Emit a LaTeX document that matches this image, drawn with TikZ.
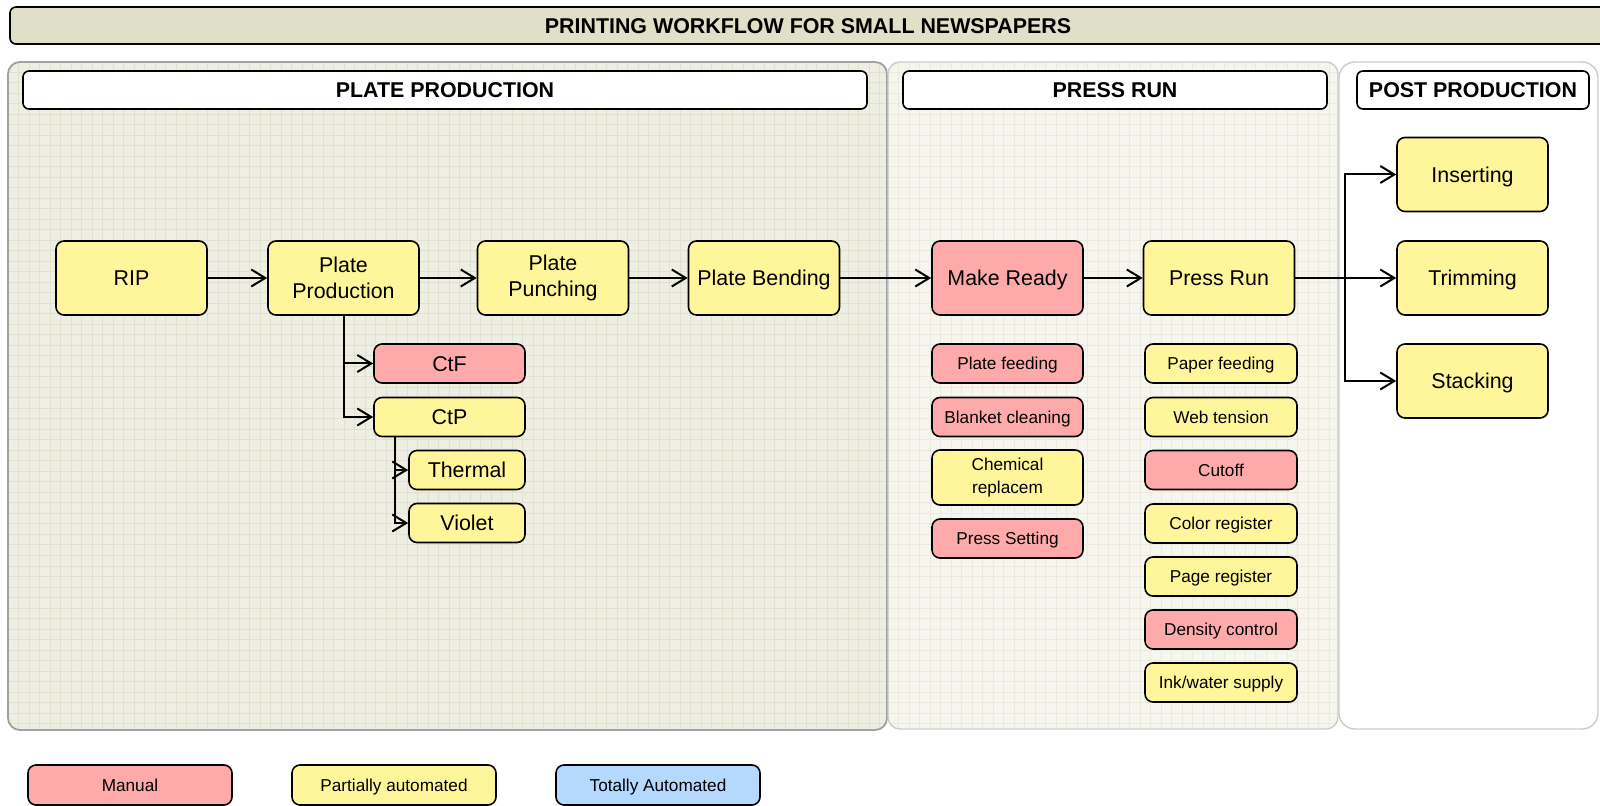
\documentclass[tikz,border=0pt]{standalone}
\usepackage{fontspec}
\setmainfont{Liberation Sans}
\usetikzlibrary{arrows.meta}
\definecolor{yel}{HTML}{FFF59A}
\definecolor{pnk}{HTML}{FFAAAA}
\definecolor{blu}{HTML}{B5D8FF}
\definecolor{titlebg}{HTML}{E0DFC8}
\definecolor{platebg}{HTML}{EEEEE2}
\definecolor{plategrid}{HTML}{E0E1CE}
\definecolor{pressbg}{HTML}{F6F6EF}
\definecolor{pressgrid}{HTML}{EAEBDD}
\definecolor{panelline}{HTML}{A0A0A0}
\definecolor{panellight}{HTML}{CCCCCC}
\begin{document}
\begin{tikzpicture}[x=0.5pt,y=-0.5pt,
  bigfont/.style={font=\fontsize{10.7}{12.8}\selectfont},
  smallfont/.style={font=\fontsize{8.6}{11.7}\selectfont},
  box/.style={draw=black, line width=0.8pt, rounded corners=4pt, inner sep=0pt, align=center},
  bigbox/.style={box, bigfont, minimum width=75.5pt, minimum height=37pt},
  smallbox/.style={box, smallfont, minimum width=75.5pt, minimum height=19.5pt},
  subbox/.style={box, bigfont, minimum width=58pt, minimum height=19.5pt},
  bigline/.style={text height=7.7pt, text depth=0pt},
  smallline/.style={text height=6.2pt, text depth=0pt},
  ybox/.style={fill=yel},
  pbox/.style={fill=pnk},
  header/.style={draw=black, line width=0.8pt, rounded corners=3pt, fill=white, inner sep=0pt, font=\fontsize{10.7}{12.8}\selectfont\bfseries, minimum height=19pt, text height=7.7pt, text depth=0pt},
  conn/.style={line width=1pt, -{Straight Barb[length=7pt,width=8.5pt,line width=1pt]}}
]
\useasboundingbox (0,0) rectangle (1600,806);
\clip (0,0) rectangle (1600,806);
\fill[white] (0,0) rectangle (1600,806);

% title bar
\draw[line width=0.8pt, rounded corners=3pt, fill=titlebg] (10,7) rectangle (1630,44);
\node[font=\fontsize{10.7}{12.8}\selectfont\bfseries, inner sep=0pt, text height=7.7pt, text depth=0pt] (title) at (808,25.5) {PRINTING WORKFLOW FOR SMALL NEWSPAPERS};

% plate production panel
\begin{scope}
\clip[rounded corners=6pt] (8,62) rectangle (887,730);
\fill[platebg] (8,62) rectangle (887,730);
\foreach \i in {0,...,84} \draw[plategrid, line width=0.5pt] ({8+\i*10.5},62) -- ({8+\i*10.5},730);
\foreach \i in {0,...,64} \draw[plategrid, line width=0.5pt] (8,{62+\i*10.5}) -- (887,{62+\i*10.5});
\end{scope}
\draw[panelline, line width=0.9pt, rounded corners=6pt] (8,62) rectangle (887,730);

% press run panel
\begin{scope}
\clip[rounded corners=6pt] (888,62) rectangle (1338,729);
\fill[pressbg] (888,62) rectangle (1338,729);
\foreach \i in {0,...,43} \draw[pressgrid, line width=0.5pt] ({888+\i*10.5},62) -- ({888+\i*10.5},729);
\foreach \i in {0,...,64} \draw[pressgrid, line width=0.5pt] (888,{62+\i*10.5}) -- (1338,{62+\i*10.5});
\end{scope}
\draw[panellight, line width=0.7pt, rounded corners=6pt] (888,62) rectangle (1338,729);

% post production panel
\draw[panellight, line width=0.7pt, fill=white, rounded corners=8pt] (1339,62) rectangle (1598,729);

% headers
\node[header, minimum width=422pt] (hplate) at (445,90) {PLATE PRODUCTION};
\node[header, minimum width=212pt] (hpress) at (1115,90) {PRESS RUN};
\node[header, minimum width=116pt] (hpost) at (1473,90) {POST PRODUCTION};

% main row
\node[bigbox, ybox, bigline] (rip) at (131.5,278) {RIP};
\node[bigbox, ybox] (pp) at (343.5,278) {Plate\\Production};
\node[bigbox, ybox] (punch) at (553,278) {Plate\\Punching};
\node[bigbox, ybox, bigline] (bend) at (764,278) {Plate Bending};
\node[bigbox, pbox, bigline] (mready) at (1007.5,278) {Make Ready};
\node[bigbox, ybox, bigline] (prun) at (1219,278) {Press Run};
\node[bigbox, ybox, bigline] (ins) at (1472.5,174.5) {Inserting};
\node[bigbox, ybox, bigline] (trim) at (1472.5,278) {Trimming};
\node[bigbox, ybox, bigline] (stack) at (1472.5,381) {Stacking};

% plate sub nodes
\node[subbox, pbox, bigline, minimum width=75.5pt] (ctf) at (449.5,363.5) {CtF};
\node[subbox, ybox, bigline, minimum width=75.5pt] (ctp) at (449.5,417) {CtP};
\node[subbox, ybox, bigline] (thermal) at (467,470) {Thermal};
\node[subbox, ybox, bigline] (violet) at (467,523) {Violet};

% press run sub nodes column 1
\node[smallbox, pbox, smallline] (pfeed) at (1007.5,363.5) {Plate feeding};
\node[smallbox, pbox, smallline] (blanket) at (1007.5,417) {Blanket cleaning};
\node[smallbox, ybox, minimum height=27.5pt] (chem) at (1007.5,477.5) {Chemical\\replacem};
\node[smallbox, pbox, smallline] (psetting) at (1007.5,538.5) {Press Setting};

% press run sub nodes column 2
\node[smallbox, ybox, smallline, minimum width=76pt] (paper) at (1221,363.5) {Paper feeding};
\node[smallbox, ybox, smallline, minimum width=76pt] (web) at (1221,417) {Web tension};
\node[smallbox, pbox, smallline, minimum width=76pt] (cutoff) at (1221,470) {Cutoff};
\node[smallbox, ybox, smallline, minimum width=76pt] (color) at (1221,523.5) {Color register};
\node[smallbox, ybox, smallline, minimum width=76pt] (page) at (1221,576.5) {Page register};
\node[smallbox, pbox, smallline, minimum width=76pt] (density) at (1221,629.5) {Density control};
\node[smallbox, ybox, smallline, minimum width=76pt] (ink) at (1221,682.5) {Ink/water supply};

% legend
\node[smallbox, pbox, smallline, minimum width=102pt, minimum height=20pt] (lman) at (130,785) {Manual};
\node[smallbox, ybox, smallline, minimum width=102pt, minimum height=20pt] (lpart) at (394,785) {Partially automated};
\node[smallbox, fill=blu, smallline, minimum width=102pt, minimum height=20pt] (ltot) at (658,785) {Totally Automated};

% connectors
\draw[conn] (rip) -- (pp);
\draw[conn] (pp) -- (punch);
\draw[conn] (punch) -- (bend);
\draw[conn] (bend) -- (mready);
\draw[conn] (mready) -- (prun);
\draw[conn] (prun) -- (trim);
\coordinate (split) at (1345,278);
\draw[conn] (prun.east) -- (split) |- (ins.west);
\draw[conn] (prun.east) -- (split) |- (stack.west);
\draw[conn] (pp.south) |- (ctf.west);
\draw[conn] (pp.south) |- (ctp.west);
\coordinate (ctpdown) at ([xshift=11pt]ctp.south west);
\draw[conn] (ctpdown) |- (thermal.west);
\draw[conn] (ctpdown) |- (violet.west);
\end{tikzpicture}
\end{document}
